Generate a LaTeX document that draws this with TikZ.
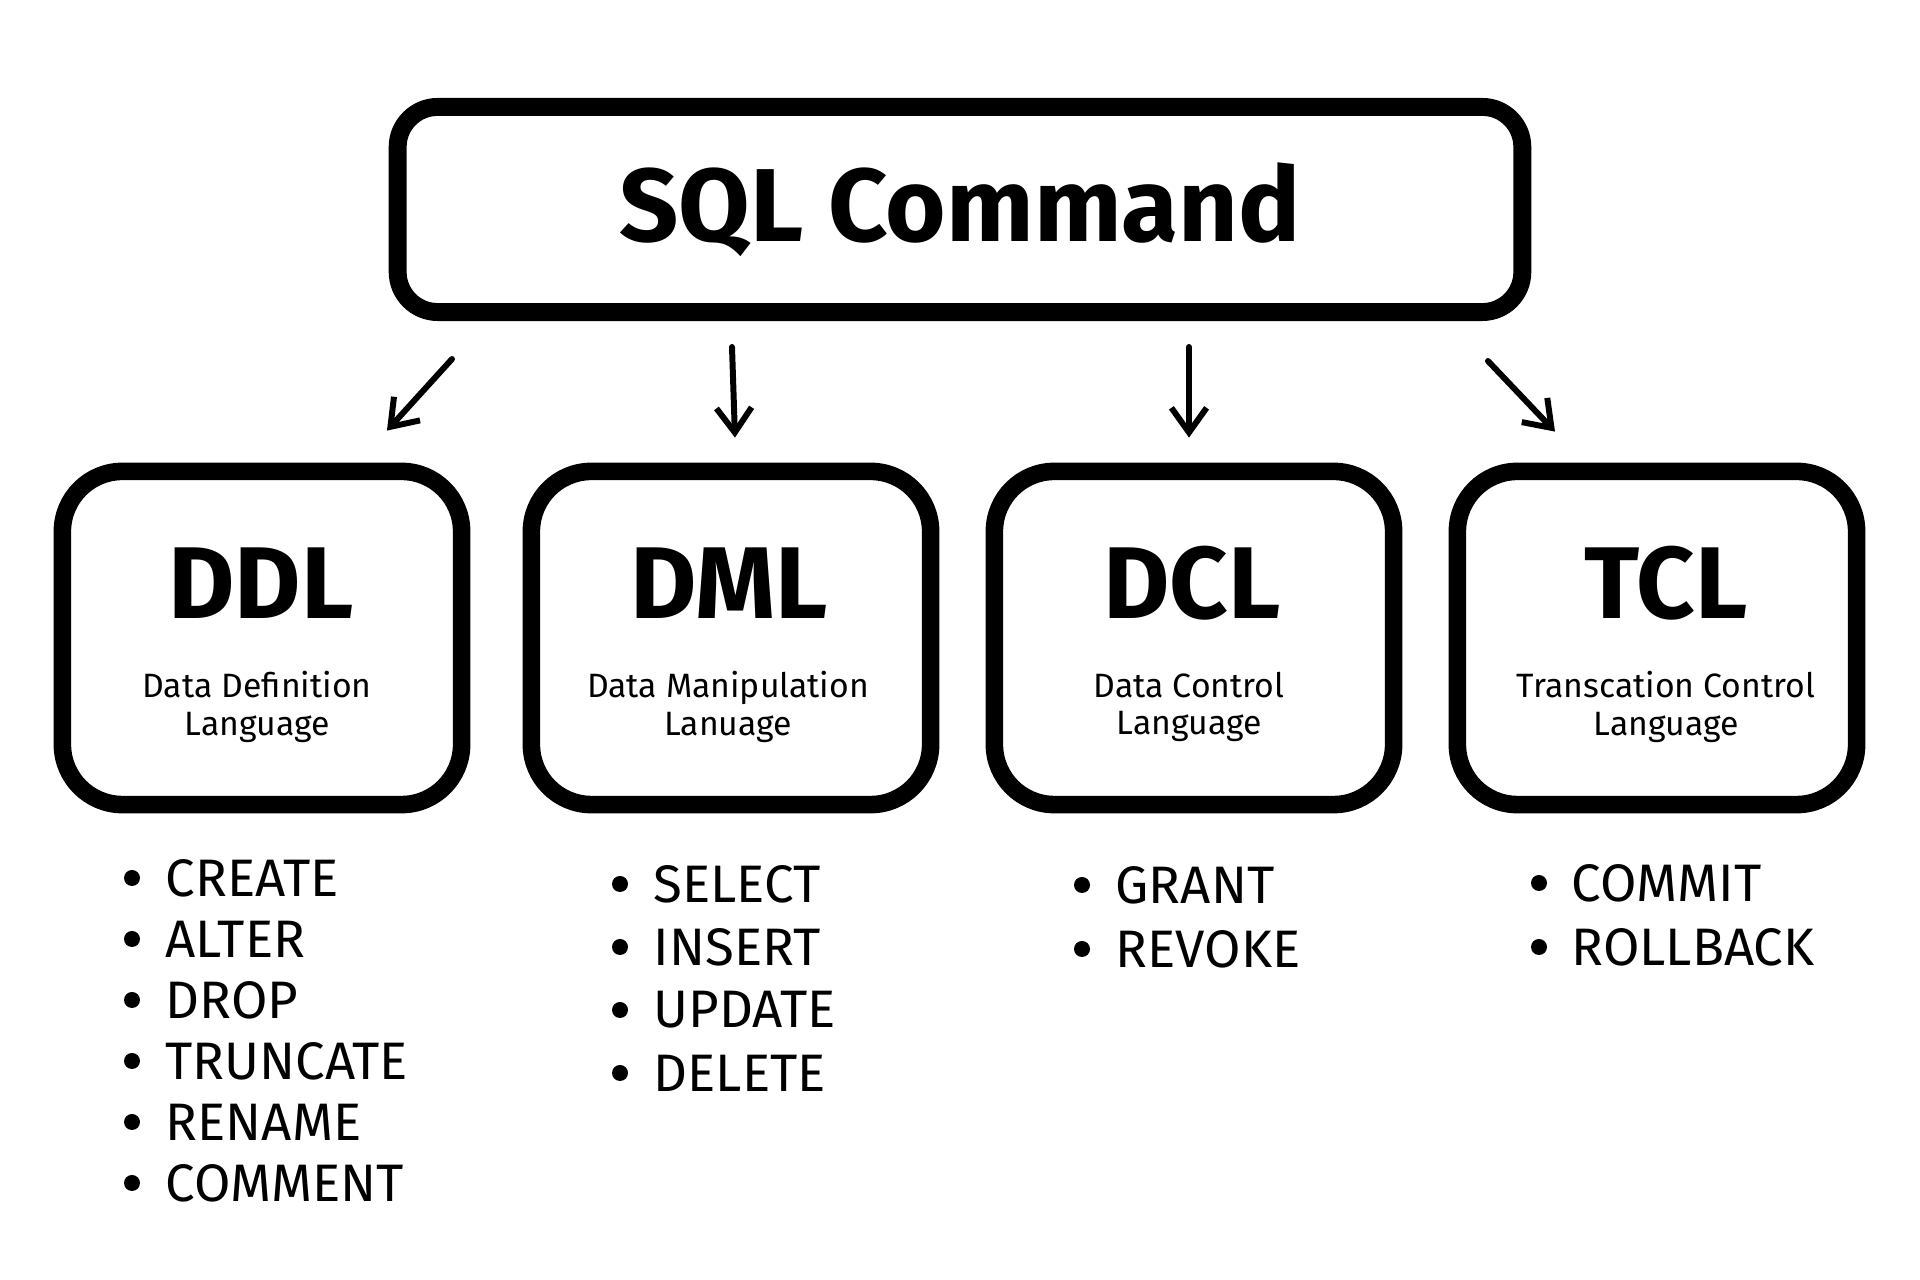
\documentclass[tikz,border=0pt]{standalone}
\usepackage{fontspec}
\setmainfont{Fira Sans}
\usetikzlibrary{arrows.meta,calc}
\begin{document}
\begin{tikzpicture}[x=0.01cm,y=-0.01cm,line join=round,line cap=round,
  >={Straight Barb[length=7pt,width=10pt]},
  box/.style={draw,line width=5pt,rounded corners=0.6cm,minimum width=3.99cm,minimum height=3.33cm},
  head/.style={font=\bfseries\fontsize{29}{32}\selectfont,inner sep=0pt},
  sub/.style={font=\fontsize{9.6}{10.6}\selectfont,align=center,inner sep=0pt},
  item/.style={anchor=west,font=\fontsize{15}{18}\selectfont,inner sep=0pt},
  arr/.style={->,line width=1.7pt}]
  \useasboundingbox (0,0) rectangle (1920,1280);
  % the root
  \node[draw,line width=5.1pt,rounded corners=0.4cm,minimum width=11.24cm,minimum height=2.05cm,
        font=\bfseries\fontsize{29.5}{33}\selectfont] (sql) at (960,209.5) {SQL Command};
  % the four groups
  \node[box] (ddl) at (262,638) {};
  \node[box] (dml) at (731,638) {};
  \node[box] (dcl) at (1194,638) {};
  \node[box] (tcl) at (1657,638) {};
  \node[head] (ddl-t) at (261,583) {DDL};
  \node[head] (dml-t) at (729,583) {DML};
  \node[head] (dcl-t) at (1192,583) {DCL};
  \node[head] (tcl-t) at (1666,583) {TCL};
  \node[sub] (ddl-s) at (257,707) {Data Definition\\Language};
  \node[sub] (dml-s) at (728,707) {Data Manipulation\\Lanuage};
  \node[sub] (dcl-s) at (1189,707) {Data Control\\Language};
  \node[sub] (tcl-s) at (1666,707) {Transcation Control\\Language};
  % arrows
  \draw[arr] ($(sql.south)+(-508,38)$) -- ($(ddl.north)+(125,-32)$);
  \draw[arr] ($(sql.south)+(-228,26)$) -- ($(dml.north)+(4,-25)$);
  \draw[arr] ($(sql.south)+(229,26)$) -- ($(dcl.north)+(-5,-25)$);
  \draw[arr] ($(sql.south)+(528,40)$) -- ($(tcl.north)+(-102,-31)$);
  % commands
  \foreach \w [count=\i from 0] in {CREATE,ALTER,DROP,TRUNCATE,RENAME,COMMENT}{
    \fill (132,{878+61*\i}) circle (8);
    \node[item] (ddl-\i) at (165,{878+61*\i}) {\w};
  }
  \foreach \w [count=\i from 0] in {SELECT,INSERT,UPDATE,DELETE}{
    \fill (620,{884+63*\i}) circle (8);
    \node[item] (dml-\i) at (653,{884+63*\i}) {\w};
  }
  \foreach \w [count=\i from 0] in {GRANT,REVOKE}{
    \fill (1082,{885+64*\i}) circle (8);
    \node[item] (dcl-\i) at (1115,{885+64*\i}) {\w};
  }
  \foreach \w [count=\i from 0] in {COMMIT,ROLLBACK}{
    \fill (1539,{883+64*\i}) circle (8);
    \node[item] (tcl-\i) at (1571,{883+64*\i}) {\w};
  }
\end{tikzpicture}
\end{document}
